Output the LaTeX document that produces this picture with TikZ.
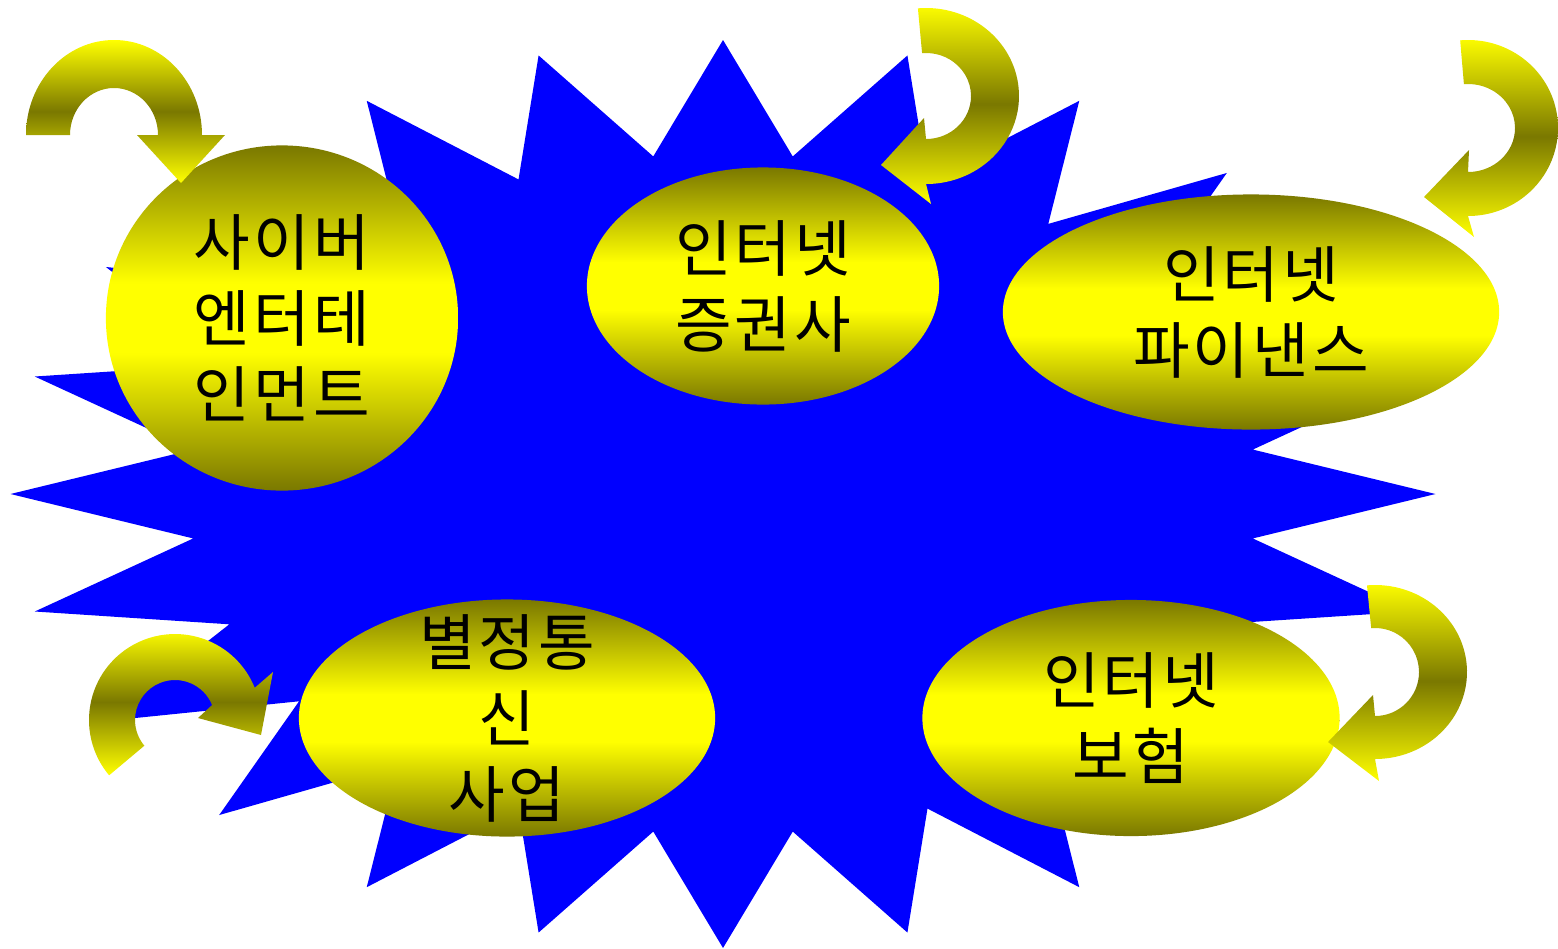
\documentclass[tikz,border=0pt]{standalone}
\usepackage{fontspec}
\newfontfamily\kr{Noto Sans CJK KR}[LetterSpace=5]
\usetikzlibrary{shapes.geometric,calc}
\definecolor{starblue}{RGB}{0,0,255}
\definecolor{oliv}{RGB}{122,120,0}
\definecolor{yel}{RGB}{255,255,0}
\pgfdeclareverticalshading{bubshade}{100bp}{color(0bp)=(oliv); color(25bp)=(oliv); color(45bp)=(yel); color(55bp)=(yel); color(75bp)=(oliv); color(100bp)=(oliv)}
\tikzset{
  bubble/.style={ellipse, inner sep=0pt, draw=none, shade, shading=bubshade},
  kortext/.style={font=\kr\fontsize{17.5pt}{21.6pt}\selectfont, align=center, text=black, inner sep=0pt},
  curarrow/.style={draw=none, top color=yel, bottom color=yel, middle color=oliv}
}
\begin{document}
\begin{tikzpicture}[x=0.01cm,y=-0.01cm]
\useasboundingbox (0,0) rectangle (1558,948);
% starburst
\fill[starblue] (1435.5,494) \foreach \i in {1,...,47}{ -- ({723+712.5*(1-0.25*mod(\i,2))*cos(7.5*\i)},{494-454*(1-0.25*mod(\i,2))*sin(7.5*\i)}) } -- cycle;
% bubbles
\node[bubble, minimum width=3.52cm, minimum height=3.45cm] (cyber) at (282,318) {};
\node[bubble, minimum width=3.52cm, minimum height=2.37cm] (stock) at (763,286) {};
\node[bubble, minimum width=4.96cm, minimum height=2.35cm] (fin) at (1251,312) {};
\node[bubble, minimum width=4.16cm, minimum height=2.37cm] (tel) at (507,718) {};
\node[bubble, minimum width=4.17cm, minimum height=2.36cm] (ins) at (1131,718) {};
% texts
\node[kortext] (cybertxt) at (cyber) {사이버\\엔터테\\인먼트};
\node[kortext] (stocktxt) at (stock) {인터넷\\증권사};
\node[kortext] (fintxt) at (fin) {인터넷\\파이낸스};
\node[kortext] (teltxt) at (tel) {별정통\\신\\사업};
\node[kortext] (instxt) at (ins) {인터넷\\보험};
% curved arrows
\path[curarrow] (26,135) arc[start angle=180, end angle=360, x radius=88, y radius=95]
  -- (225,135) -- (181,183) -- (137,135) -- (158,135)
  arc[start angle=360, end angle=180, x radius=44, y radius=47] -- cycle;
\path[curarrow] ($(926,96)+(265:93 and 88)$) arc[start angle=265, end angle=450, x radius=93, y radius=88]
  -- (931,204) -- (881,165) -- (924,118) -- ($(926,96)+(450:45 and 43)$)
  arc[start angle=450, end angle=265, x radius=45, y radius=43] -- cycle;
\path[curarrow] ($(1468,128)+(265:90 and 88)$) arc[start angle=265, end angle=450, x radius=90, y radius=88]
  -- (1474,237) -- (1424,197) -- (1469,150) -- ($(1468,128)+(450:47 and 44)$)
  arc[start angle=450, end angle=265, x radius=47, y radius=44] -- cycle;
\path[curarrow] ($(1375,672)+(265:92 and 87)$) arc[start angle=265, end angle=450, x radius=92, y radius=87]
  -- (1379,781) -- (1328,742) -- (1373,695) -- ($(1375,672)+(450:44 and 44)$)
  arc[start angle=450, end angle=265, x radius=44, y radius=44] -- cycle;
\path[curarrow] ($(175,720)+(140:86 and 86)$) arc[start angle=140, end angle=338, x radius=86, y radius=86]
  -- (273,672) -- (261,735) -- (198,718) -- ($(175,720)+(338:40 and 40)$)
  arc[start angle=338, end angle=140, x radius=40, y radius=40] -- cycle;
\end{tikzpicture}
\end{document}
